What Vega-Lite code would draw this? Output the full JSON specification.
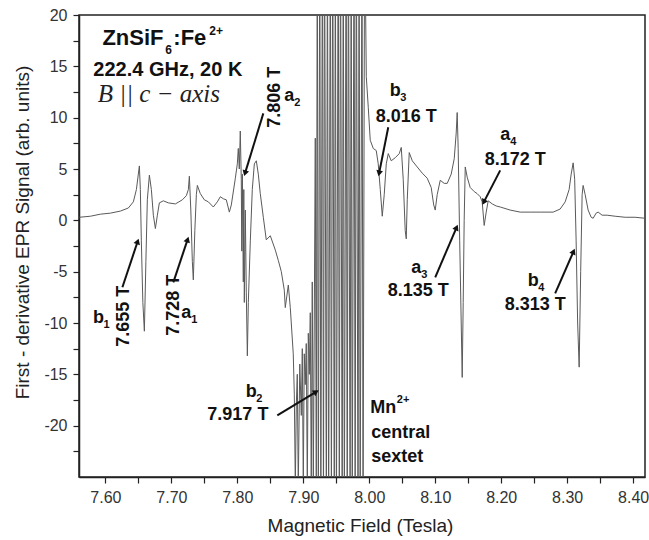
{
  "$schema": "https://vega.github.io/schema/vega-lite/v6.json",
  "autosize": "none",
  "width": 566,
  "height": 462,
  "padding": {"left": 79, "top": 15, "right": 4, "bottom": 63},
  "background": "white",
  "config": {
    "view": {"stroke": "#222", "strokeWidth": 1.5},
    "font": "Liberation Sans"
  },
  "datasets": {
    "spec": [
      {"B":7.5606,"S":0.3},{"B":7.5773,"S":0.4},{"B":7.5924,"S":0.6},{"B":7.6076,"S":0.7},{"B":7.6227,"S":0.9},{"B":7.6348,"S":1.2},{"B":7.6424,"S":1.8},{"B":7.6470,"S":3.0},{"B":7.6515,"S":5.3},{"B":7.6530,"S":3.0},{"B":7.6545,"S":-2},{"B":7.6568,"S":-8},{"B":7.6591,"S":-10.8},{"B":7.6614,"S":-4},{"B":7.6636,"S":2},{"B":7.6667,"S":4.4},{"B":7.6697,"S":3.0},{"B":7.6727,"S":0.5},{"B":7.6758,"S":-0.8},{"B":7.6788,"S":0.5},{"B":7.6818,"S":1.7},{"B":7.6879,"S":1.9},{"B":7.6955,"S":1.7},{"B":7.7061,"S":1.6},{"B":7.7167,"S":2.0},{"B":7.7227,"S":2.4},{"B":7.7258,"S":3.0},{"B":7.7273,"S":4.3},{"B":7.7295,"S":1.0},{"B":7.7318,"S":-4},{"B":7.7333,"S":-5.8},{"B":7.7356,"S":-1},{"B":7.7379,"S":2.5},{"B":7.7394,"S":3.4},{"B":7.7439,"S":2.6},{"B":7.75,"S":2.0},{"B":7.7561,"S":1.8},{"B":7.7636,"S":1.3},{"B":7.7697,"S":1.8},{"B":7.7742,"S":2.3},{"B":7.7788,"S":2.1},{"B":7.7833,"S":2.0},{"B":7.7879,"S":0.8},{"B":7.7909,"S":1.5},{"B":7.797,"S":4.1},{"B":7.8,"S":5.5},{"B":7.8015,"S":7.0},{"B":7.803,"S":5.0},{"B":7.8045,"S":8.7},{"B":7.806,"S":4.0},{"B":7.8068,"S":-3},{"B":7.8076,"S":4.5},{"B":7.8091,"S":-6},{"B":7.8098,"S":3.0},{"B":7.8106,"S":-8},{"B":7.8121,"S":1},{"B":7.8136,"S":-7},{"B":7.8152,"S":-13.2},{"B":7.8167,"S":-8},{"B":7.8197,"S":-2},{"B":7.8227,"S":3},{"B":7.8258,"S":5.5},{"B":7.8288,"S":5.8},{"B":7.8318,"S":4.5},{"B":7.8348,"S":2.6},{"B":7.8394,"S":0.3},{"B":7.8439,"S":-1.9},{"B":7.85,"S":-1.5},{"B":7.8576,"S":-2.9},{"B":7.8621,"S":-3.9},{"B":7.8667,"S":-5.0},{"B":7.8712,"S":-6.8},{"B":7.8727,"S":-8.5},{"B":7.8773,"S":-6.3},{"B":7.8803,"S":-8.5},{"B":7.8848,"S":-13},{"B":7.8864,"S":-17},
      {"B":7.8879,"S":-26},{"B":7.8894,"S":-18},{"B":7.8909,"S":-15},{"B":7.8924,"S":-26},{"B":7.8947,"S":-14},{"B":7.897,"S":-19},{"B":7.8985,"S":-12.5},{"B":7.9,"S":-26},{"B":7.9015,"S":-13},{"B":7.903,"S":-16},{"B":7.9045,"S":-12},{"B":7.9061,"S":-26},{"B":7.9076,"S":-11},{"B":7.9091,"S":-15},{"B":7.9106,"S":-9},{"B":7.9121,"S":-26},{"B":7.9136,"S":-6},{"B":7.9152,"S":-26},{"B":7.9182,"S":8},{"B":7.9197,"S":-26},
      {"B":7.9212,"S":30},{"B":7.9228,"S":-30},{"B":7.9250,"S":30},{"B":7.9266,"S":-30},{"B":7.9290,"S":30},{"B":7.9306,"S":-30},{"B":7.9322,"S":30},{"B":7.9350,"S":-30},{"B":7.9366,"S":30},{"B":7.9384,"S":-30},{"B":7.9410,"S":30},{"B":7.9426,"S":-30},{"B":7.9446,"S":30},{"B":7.9470,"S":-30},{"B":7.9486,"S":30},{"B":7.9502,"S":-30},{"B":7.9530,"S":30},{"B":7.9546,"S":-30},{"B":7.9564,"S":30},{"B":7.9590,"S":-30},{"B":7.9606,"S":30},{"B":7.9622,"S":-30},{"B":7.9650,"S":30},{"B":7.9666,"S":-30},{"B":7.9684,"S":30},{"B":7.9710,"S":-30},{"B":7.9726,"S":30},{"B":7.9742,"S":-30},{"B":7.9770,"S":30},{"B":7.9786,"S":-30},{"B":7.9804,"S":30},{"B":7.9830,"S":-30},{"B":7.9846,"S":30},{"B":7.9862,"S":-30},{"B":7.9890,"S":30},{"B":7.9906,"S":-30},{"B":7.9930,"S":30},
      {"B":7.9955,"S":14},{"B":7.9985,"S":11},{"B":8.0015,"S":7.8},{"B":8.0061,"S":7.0},{"B":8.0106,"S":6.8},{"B":8.0136,"S":5.5},{"B":8.0167,"S":3.0},{"B":8.0197,"S":0.4},{"B":8.0227,"S":2.5},{"B":8.0258,"S":5.5},{"B":8.0288,"S":6.5},{"B":8.0333,"S":5.8},{"B":8.0394,"S":6.1},{"B":8.0455,"S":6.5},{"B":8.0485,"S":7.1},{"B":8.0515,"S":4},{"B":8.0545,"S":-1},{"B":8.0561,"S":-1.8},{"B":8.0576,"S":2},{"B":8.0606,"S":6.6},{"B":8.0652,"S":5.8},{"B":8.0727,"S":5.2},{"B":8.0803,"S":4.6},{"B":8.0879,"S":4.1},{"B":8.0939,"S":3.2},{"B":8.0977,"S":1.5},{"B":8.1,"S":1.0},{"B":8.103,"S":2.5},{"B":8.1076,"S":3.9},{"B":8.1136,"S":3.6},{"B":8.1182,"S":3.6},{"B":8.1242,"S":4.5},{"B":8.1288,"S":6},{"B":8.1318,"S":8.5},{"B":8.1333,"S":10.5},{"B":8.1348,"S":7},{"B":8.1371,"S":-2},{"B":8.1394,"S":-10},{"B":8.1409,"S":-15.3},{"B":8.1424,"S":-8},{"B":8.1439,"S":0},{"B":8.1455,"S":5.2},{"B":8.1485,"S":4.2},{"B":8.1530,"S":3.2},{"B":8.1591,"S":2.8},{"B":8.1636,"S":2.6},{"B":8.1682,"S":2.3},{"B":8.1712,"S":1.8},{"B":8.1742,"S":-0.5},{"B":8.1773,"S":0.8},{"B":8.1803,"S":1.9},{"B":8.1864,"S":1.6},{"B":8.1924,"S":1.4},{"B":8.1985,"S":1.3},{"B":8.2136,"S":1.0},{"B":8.2288,"S":0.8},{"B":8.2439,"S":0.8},{"B":8.2591,"S":0.8},{"B":8.2788,"S":0.8},{"B":8.2894,"S":1.1},{"B":8.2970,"S":1.8},{"B":8.3030,"S":3.0},{"B":8.3061,"S":4.5},{"B":8.3091,"S":5.6},{"B":8.3114,"S":4},{"B":8.3136,"S":-2},{"B":8.3159,"S":-10},{"B":8.3182,"S":-14.3},{"B":8.3205,"S":-5},{"B":8.3227,"S":2.5},{"B":8.3242,"S":3.4},{"B":8.3273,"S":2.5},{"B":8.3318,"S":1.0},{"B":8.3364,"S":0.3},{"B":8.3394,"S":0.2},{"B":8.3439,"S":0.7},{"B":8.3470,"S":0.8},{"B":8.3530,"S":0.5},{"B":8.3606,"S":0.5},{"B":8.3727,"S":0.4},{"B":8.3879,"S":0.3},{"B":8.4030,"S":0.3},{"B":8.4182,"S":0.2}
    ],
    "arrows": [
      {"x":7.6258,"y":-6.52,"x2":7.6485,"y2":-2.14},
      {"x":7.7030,"y":-6.04,"x2":7.7242,"y2":-1.95},
      {"x":7.8394,"y":10.42,"x2":7.8121,"y2":4.67},
      {"x":7.8606,"y":-18.99,"x2":7.9182,"y2":-16.75},
      {"x":8.0288,"y":9.06,"x2":8.0152,"y2":4.67},
      {"x":8.1985,"y":4.87,"x2":8.1742,"y2":1.85},
      {"x":8.1,"y":-5.55,"x2":8.1318,"y2":-0.78},
      {"x":8.2818,"y":-7.11,"x2":8.3091,"y2":-3.12}
    ],
    "letters": [
      {"x":7.5894,"y":-9.54,"l":"b","s":"1"},
      {"x":7.7227,"y":-9.06,"l":"a","s":"1"},
      {"x":7.8788,"y":12.1,"l":"a","s":"2"},
      {"x":7.8212,"y":-16.75,"l":"b","s":"2"},
      {"x":8.0394,"y":12.56,"l":"b","s":"3"},
      {"x":8.0712,"y":-4.67,"l":"a","s":"3"},
      {"x":8.2061,"y":8.28,"l":"a","s":"4"},
      {"x":8.2485,"y":-5.94,"l":"b","s":"4"}
    ],
    "labels": [
      {"x":7.8008,"y":-18.99,"t":"7.917 T"},
      {"x":8.056,"y":10.03,"t":"8.016 T"},
      {"x":8.2212,"y":5.84,"t":"8.172 T"},
      {"x":8.0742,"y":-6.91,"t":"8.135 T"},
      {"x":8.2515,"y":-8.28,"t":"8.313 T"}
    ],
    "leftlabels": [
      {"x":8.0030,"y":-20.74,"t":"central"},
      {"x":8.0030,"y":-23.08,"t":"sextet"}
    ],
    "vlabels": [
      {"x":7.628,"y":-9.35,"t":"7.655 T"},
      {"x":7.7038,"y":-8.28,"t":"7.728 T"},
      {"x":7.8576,"y":11.98,"t":"7.806 T"}
    ]
  },
  "encoding": {
    "x": {
      "field": "B", "type": "quantitative",
      "scale": {"domain": [7.56, 8.418], "nice": false, "zero": false},
      "axis": {
        "title": "Magnetic Field (Tesla)",
        "values": [7.6,7.65,7.7,7.75,7.8,7.85,7.9,7.95,8.0,8.05,8.1,8.15,8.2,8.25,8.3,8.35,8.4],
        "labelExpr": "round(datum.value*20) % 2 == 0 ? format(datum.value, '.2f') : ''",
        "grid": false, "tickSize": 6, "tickColor": "#222", "domainColor": "#222", "domainWidth": 1.5, "tickWidth": 1.2,
        "labelFontSize": 16, "labelColor": "#333", "labelPadding": 6, "labelFont": "Liberation Sans",
        "titleFontSize": 19, "titleFontWeight": "normal", "titleColor": "#222", "titleFont": "Liberation Sans",
        "titleX": 281, "titleY": 48, "titleBaseline": "middle", "titleAnchor": "middle"
      }
    },
    "y": {
      "field": "S", "type": "quantitative",
      "scale": {"domain": [-25, 20], "nice": false, "zero": false},
      "axis": {
        "title": "First - derivative EPR Signal (arb. units)",
        "values": [-22.5,-20,-17.5,-15,-12.5,-10,-7.5,-5,-2.5,0,2.5,5,7.5,10,12.5,15,17.5,20],
        "labelExpr": "round(datum.value*2) % 10 == 0 ? '' + datum.value : ''",
        "grid": false, "tickSize": 6, "tickColor": "#222", "domainColor": "#222", "domainWidth": 1.5, "tickWidth": 1.2,
        "labelFontSize": 16, "labelColor": "#333", "labelPadding": 6, "labelFont": "Liberation Sans",
        "titleFontSize": 19, "titleFontWeight": "normal", "titleColor": "#222", "titleFont": "Liberation Sans",
        "titleX": -57, "titleY": 217, "titleBaseline": "middle", "titleAngle": 270, "titleAnchor": "middle"
      }
    }
  },
  "layer": [
    {
      "data": {"name": "spec"},
      "mark": {"type": "line", "color": "#5a5a5a", "strokeWidth": 1, "clip": true, "interpolate": "linear"}
    },
    {
      "data": {"name": "arrows"},
      "mark": {"type": "rule", "color": "#111", "strokeWidth": 2},
      "encoding": {
        "x": {"field": "x", "type": "quantitative"},
        "y": {"field": "y", "type": "quantitative"},
        "x2": {"field": "x2"},
        "y2": {"field": "y2"}
      }
    },
    {
      "data": {"name": "arrows"},
      "transform": [
        {"calculate": "atan2((datum.x2-datum.x)*660, (datum.y2-datum.y)*10.27)*180/PI", "as": "ang"}
      ],
      "mark": {"type": "point", "shape": "triangle", "filled": true, "color": "#111", "size": 45, "opacity": 1},
      "encoding": {
        "x": {"field": "x2", "type": "quantitative"},
        "y": {"field": "y2", "type": "quantitative"},
        "angle": {"field": "ang", "type": "quantitative", "scale": null}
      }
    },
    {
      "data": {"name": "letters"},
      "mark": {"type": "text", "fontWeight": "bold", "fontSize": 18, "color": "#111", "align": "center", "baseline": "middle", "font": "Liberation Sans"},
      "encoding": {
        "x": {"field": "x", "type": "quantitative"},
        "y": {"field": "y", "type": "quantitative"},
        "text": {"field": "l"}
      }
    },
    {
      "data": {"name": "letters"},
      "mark": {"type": "text", "fontWeight": "bold", "fontSize": 11, "color": "#111", "align": "left", "baseline": "middle", "dx": 5, "dy": 7, "font": "Liberation Sans"},
      "encoding": {
        "x": {"field": "x", "type": "quantitative"},
        "y": {"field": "y", "type": "quantitative"},
        "text": {"field": "s"}
      }
    },
    {
      "data": {"name": "labels"},
      "mark": {"type": "text", "fontWeight": "bold", "fontSize": 18, "color": "#111", "align": "center", "baseline": "middle", "font": "Liberation Sans"},
      "encoding": {
        "x": {"field": "x", "type": "quantitative"},
        "y": {"field": "y", "type": "quantitative"},
        "text": {"field": "t"}
      }
    },
    {
      "data": {"name": "leftlabels"},
      "mark": {"type": "text", "fontWeight": "bold", "fontSize": 18, "color": "#111", "align": "left", "baseline": "middle", "font": "Liberation Sans"},
      "encoding": {
        "x": {"field": "x", "type": "quantitative"},
        "y": {"field": "y", "type": "quantitative"},
        "text": {"field": "t"}
      }
    },
    {
      "data": {"values": [{"x": 8.0409, "y": -18.3, "t": "Mn"}]},
      "mark": {"type": "text", "fontWeight": "bold", "fontSize": 18, "color": "#111", "align": "right", "baseline": "middle", "font": "Liberation Sans"},
      "encoding": {
        "x": {"field": "x", "type": "quantitative"},
        "y": {"field": "y", "type": "quantitative"},
        "text": {"field": "t"}
      }
    },
    {
      "data": {"values": [{"x": 8.0418, "y": -18.3, "t": "2+"}]},
      "mark": {"type": "text", "fontWeight": "bold", "fontSize": 11, "color": "#111", "align": "left", "baseline": "middle", "dy": -8, "font": "Liberation Sans"},
      "encoding": {
        "x": {"field": "x", "type": "quantitative"},
        "y": {"field": "y", "type": "quantitative"},
        "text": {"field": "t"}
      }
    },
    {
      "data": {"name": "vlabels"},
      "mark": {"type": "text", "fontWeight": "bold", "fontSize": 18, "color": "#111", "align": "center", "baseline": "middle", "angle": 270, "font": "Liberation Sans"},
      "encoding": {
        "x": {"field": "x", "type": "quantitative"},
        "y": {"field": "y", "type": "quantitative"},
        "text": {"field": "t"}
      }
    },
    {
      "data": {"values": [{"x": 7.5955, "y": 17.04, "t": "ZnSiF"}, {"x": 7.7030, "y": 17.04, "t": ":Fe"}]},
      "mark": {"type": "text", "fontWeight": "bold", "fontSize": 22, "color": "#111", "align": "left", "baseline": "alphabetic", "font": "Liberation Sans"},
      "encoding": {
        "x": {"field": "x", "type": "quantitative"},
        "y": {"field": "y", "type": "quantitative"},
        "text": {"field": "t"}
      }
    },
    {
      "data": {"values": [{"x": 7.6909, "y": 16.25, "t": "6"}, {"x": 7.7576, "y": 18.01, "t": "2+"}]},
      "mark": {"type": "text", "fontWeight": "bold", "fontSize": 12, "color": "#111", "align": "left", "baseline": "alphabetic", "font": "Liberation Sans"},
      "encoding": {
        "x": {"field": "x", "type": "quantitative"},
        "y": {"field": "y", "type": "quantitative"},
        "text": {"field": "t"}
      }
    },
    {
      "data": {"values": [{"x": 7.6947, "y": 14.05, "t": "222.4 GHz, 20 K"}]},
      "mark": {"type": "text", "fontWeight": "bold", "fontSize": 20, "color": "#111", "align": "center", "baseline": "alphabetic", "font": "Liberation Sans"},
      "encoding": {
        "x": {"field": "x", "type": "quantitative"},
        "y": {"field": "y", "type": "quantitative"},
        "text": {"field": "t"}
      }
    },
    {
      "data": {"values": [{"x": 7.6811, "y": 11.49, "t": "B || c − axis"}]},
      "mark": {"type": "text", "fontStyle": "italic", "fontSize": 25, "color": "#222", "align": "center", "baseline": "alphabetic", "font": "Liberation Serif"},
      "encoding": {
        "x": {"field": "x", "type": "quantitative"},
        "y": {"field": "y", "type": "quantitative"},
        "text": {"field": "t"}
      }
    }
  ]
}
